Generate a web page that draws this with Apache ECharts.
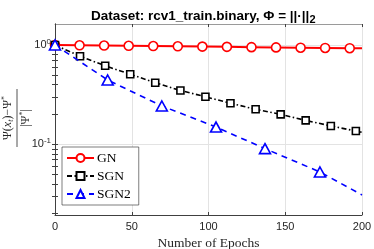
<!DOCTYPE html>
<html><head><meta charset="utf-8">
<script src="https://cdn.jsdelivr.net/npm/echarts@6/dist/echarts.min.js"></script>
<style>html,body{margin:0;padding:0;background:#fff}#c{width:374px;height:249px}</style>
</head><body><div id="c"></div>
<script>
// ---- data ----
const gnX = [0,16,32,48,64,80,96,112,128,144,160,176,192,200];
const gnY = [1.0,0.993,0.987,0.981,0.975,0.969,0.963,0.957,0.951,0.945,0.939,0.933,0.927,0.924];
const sgnX = [0,16.3,32.7,49,65.3,81.7,98,114.3,130.7,147,163.3,179.7,196,200];
const sgnY = [1.0,0.771,0.617,0.507,0.417,0.348,0.301,0.259,0.225,0.2,0.174,0.153,0.136,0.132];
const sgn2X = [0,34.3,69.6,104.9,136.8,172.6,200];
const sgn2Y = [1.0,0.444,0.243,0.149,0.0904,0.0526,0.0309];
const seriesNames = ['GN','SGN','SGN2'];
const xTicks = [0,50,100,150,200];
const yLabelTicks = [0.1,1];
const yMinorTicks = [0.02,0.03,0.04,0.05,0.06,0.07,0.08,0.09,0.1,0.2,0.3,0.4,0.5,0.6,0.7,0.8,0.9,1];

function pts(xs, ys){
  return xs.map((x,i)=> i===xs.length-1 ? {value:[x,ys[i]], symbol:'none'} : [x,ys[i]]);
}
const axisCol = '#404040';
const gridCol = '#e3e3e3';
const chart = echarts.init(document.getElementById('c'), null, {renderer:'canvas'});
const yCommon = {
  type:'log', min:0.0194, max:1.626, logBase:10,
  axisLine:{show:true, lineStyle:{color:axisCol, width:1}},
  axisTick:{show:true, inside:true, length:3, customValues:yMinorTicks, lineStyle:{color:axisCol}},
  splitLine:{show:false}
};
chart.setOption({
  animation:false,
  title:{
    text:'{t|Dataset: rcv1_train.binary, Φ = ||·||}{s|2}',
    left:86, top:2,
    textStyle:{rich:{
      t:{fontFamily:'Liberation Sans', fontWeight:'bold', fontSize:13.5, color:'#000'},
      s:{fontFamily:'Liberation Sans', fontWeight:'bold', fontSize:11, color:'#000', padding:[7,0,0,0]}
    }}
  },
  grid:{left:55, right:12, top:24, bottom:34, outerBoundsMode:'none', containLabel:false},
  legend:{
    orient:'vertical', left:62, top:147,
    data:seriesNames,
    backgroundColor:'#fff', borderColor:'#262626', borderWidth:0.6,
    padding:[4,8,4,4], itemGap:4, itemWidth:27, itemHeight:10,
    textStyle:{fontFamily:'Liberation Serif', fontSize:13.5, color:'#000', padding:[0,0,0,-2]}
  },
  xAxis:[{
    type:'value', min:0, max:200, interval:50,
    axisLine:{show:true, onZero:false, lineStyle:{color:axisCol, width:1}},
    axisTick:{show:true, inside:true, length:3, lineStyle:{color:axisCol}},
    axisLabel:{fontFamily:'Liberation Sans', fontSize:11, color:'#262626', margin:6},
    splitLine:{show:true, lineStyle:{color:gridCol, width:1}},
    name:'Number of Epochs', nameLocation:'middle', nameGap:19,
    nameTextStyle:{fontFamily:'Liberation Serif', fontSize:13.5, color:'#262626'}
  },{
    type:'value', min:0, max:200, interval:50, position:'top',
    axisLine:{show:true, onZero:false, lineStyle:{color:'#9a9a9a', width:1}},
    axisTick:{show:true, inside:true, length:3, lineStyle:{color:axisCol}},
    axisLabel:{show:false}, splitLine:{show:false}
  }],
  yAxis:[Object.assign({}, yCommon, {
    position:'left',
    axisLabel:{show:true, customValues:yLabelTicks, margin:4,
      formatter:v=>'{b|10}{s|'+Math.round(Math.log10(v))+'}',
      rich:{
        b:{fontFamily:'Liberation Sans', fontSize:11, color:'#262626'},
        s:{fontFamily:'Liberation Sans', fontSize:8, color:'#262626', padding:[0,0,7,0]}
      }}
  }), Object.assign({}, yCommon, {
    position:'right', axisLabel:{show:false},
    axisLine:{show:true, lineStyle:{color:axisCol, width:1}}
  }), {
    type:'log', min:0.0194, max:1.626, logBase:10, position:'left',
    axisLine:{show:false}, axisTick:{show:false}, axisLabel:{show:false},
    splitLine:{show:true, showMinLine:false, showMaxLine:false, lineStyle:{color:gridCol, width:1}}
  }],
  graphic:[{
    type:'group', x:17, y:118, rotation:Math.PI/2,
    children:[
      {type:'text', x:0, y:-9, style:{text:'{n|Ψ(}{i|x}{d|t}{n|)−Ψ}{u|*}', align:'center', verticalAlign:'middle',
        rich:{n:{fontFamily:'Liberation Serif', fontSize:12, fill:'#262626'},
              i:{fontFamily:'Liberation Serif', fontStyle:'italic', fontSize:12, fill:'#262626'},
              d:{fontFamily:'Liberation Serif', fontStyle:'italic', fontSize:8, fill:'#262626', padding:[5,0,0,0]},
              u:{fontFamily:'Liberation Serif', fontSize:8, fill:'#262626', padding:[0,0,6,0]}}}},
      {type:'line', shape:{x1:-29, y1:0, x2:29, y2:0}, style:{stroke:'#262626', lineWidth:0.8}},
      {type:'text', x:0, y:9, style:{text:'{n||Ψ}{u|*}{n||}', align:'center', verticalAlign:'middle',
        rich:{n:{fontFamily:'Liberation Serif', fontSize:12, fill:'#262626'},
              u:{fontFamily:'Liberation Serif', fontSize:8, fill:'#262626', padding:[0,0,6,0]}}}}
    ]
  }],
  series:[{
    name:'GN', type:'line', data:pts(gnX,gnY), xAxisIndex:0, yAxisIndex:0,
    symbol:'circle', symbolSize:9, showAllSymbol:true,
    lineStyle:{color:'#ff0000', width:2},
    itemStyle:{color:'#fff', borderColor:'#ff0000', borderWidth:1.6},
    color:'#ff0000', z:3
  },{
    name:'SGN', type:'line', data:pts(sgnX,sgnY), xAxisIndex:0, yAxisIndex:0,
    symbol:'rect', symbolSize:7, showAllSymbol:true,
    lineStyle:{color:'#000', width:1.6, type:[5,2.5,1.5,2.5]},
    itemStyle:{color:'#fff', borderColor:'#000', borderWidth:1.6},
    color:'#000', z:4
  },{
    name:'SGN2', type:'line', data:pts(sgn2X,sgn2Y), xAxisIndex:0, yAxisIndex:0,
    symbol:'triangle', symbolSize:[11,10], showAllSymbol:true,
    lineStyle:{color:'#0000ff', width:1.6, type:[6,5]},
    itemStyle:{color:'#fff', borderColor:'#0000ff', borderWidth:1.6},
    color:'#0000ff', z:5
  }]
});
</script></body></html>
